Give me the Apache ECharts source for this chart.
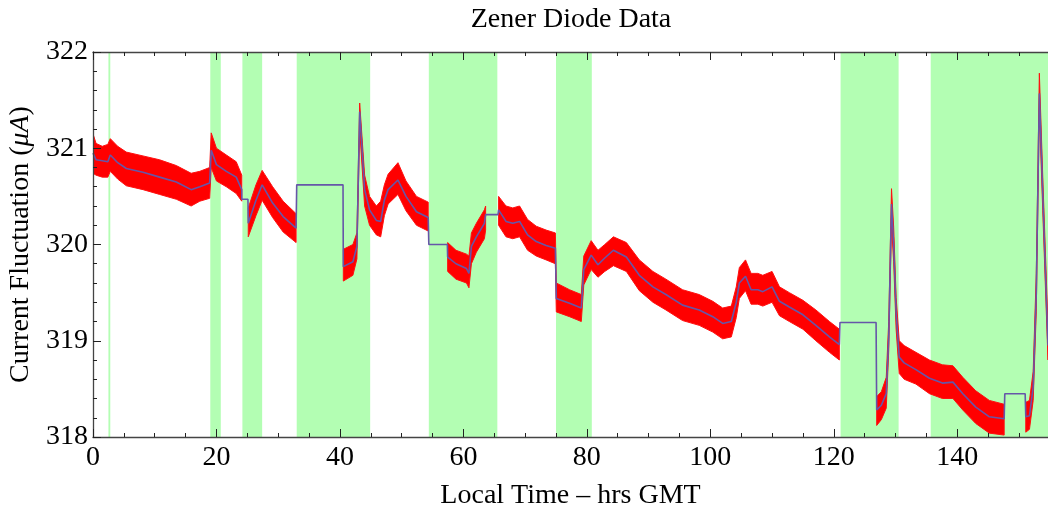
<!DOCTYPE html>
<html>
<head>
<meta charset="utf-8">
<script src="https://cdn.jsdelivr.net/npm/echarts@6/dist/echarts.min.js"></script>
<style>html,body{margin:0;padding:0;background:#fff;}#c{width:1048px;height:510px;}</style>
</head>
<body>
<div id="c"></div>
<script>
// ---- data ----
const chartTitle = 'Zener Diode Data';
const xName = 'Local Time \u2013 hrs GMT';
const yName = 'Current Fluctuation ({i|\u03bcA})';
const xTicksMajor = 20, xTicksMinor = 5, yTicksMajor = 1, yTicksMinor = 0.2;

// green (shaded) intervals, hours
const greenBands = [[2.5,2.8],[19.0,20.7],[24.2,27.4],[33.0,44.9],[54.4,65.5],[75.0,80.8],[121.1,130.5],[135.7,154.7]];

// time (hours), smoothed mean (purple), raw-noise envelope lower/upper (red); null = no raw data
const time  = [0,0.5,1.5,2.4,2.8,4,5.4,8.1,10.8,13.5,15.9,17.3,18.9,19.15,20.0,21.6,23.2,24.1,24.1,25.1,25.15,26.4,27.4,29.1,30.8,32.9,33.0,40.5,40.55,42.1,42.75,43.2,44.0,44.8,45.9,46.6,47.2,47.8,49.4,50.7,52.4,54.3,54.4,57.4,57.45,58.8,60.5,60.9,61.3,62.1,63.4,63.6,63.7,65.6,65.7,66.9,68.0,69.1,70.4,71.8,73.4,74.9,75.05,77.2,79.1,79.5,80.7,81.8,82.9,84.3,86.4,88.5,90.7,92.8,95.5,98.2,100.4,102.0,103.4,104.2,104.7,105.7,106.6,107.7,108.5,110.0,111.2,112.8,115.0,117.1,119.3,120.9,121.0,126.85,126.95,127.7,128.5,128.9,129.35,129.7,130.1,130.6,131.4,133.3,135.5,137.6,139.3,140.9,143.0,145.2,147.6,147.7,151.0,151.1,151.7,152.3,152.8,153.3,153.85,154.7];
const mean  = [320.95,320.88,320.87,320.86,320.93,320.85,320.79,320.75,320.70,320.65,320.57,320.60,320.64,320.98,320.83,320.76,320.70,320.57,320.47,320.47,320.22,320.46,320.62,320.43,320.29,320.17,320.62,320.62,319.77,319.82,319.98,321.38,320.57,320.36,320.25,320.24,320.46,320.57,320.67,320.50,320.34,320.28,320.00,320.00,319.87,319.80,319.75,319.70,319.98,320.08,320.22,320.31,320.31,320.31,320.36,320.24,320.22,320.24,320.10,320.03,319.99,319.96,319.44,319.39,319.34,319.74,319.89,319.79,319.86,319.94,319.87,319.68,319.56,319.48,319.37,319.32,319.25,319.18,319.20,319.40,319.60,319.67,319.53,319.53,319.51,319.56,319.41,319.35,319.27,319.16,319.04,318.96,319.19,319.19,318.28,318.33,318.45,319.04,320.42,320.00,319.29,318.83,318.77,318.70,318.61,318.56,318.57,318.45,318.31,318.21,318.19,318.45,318.45,318.21,318.22,318.52,319.49,321.57,320.53,318.95];
const lower = [320.74,320.72,320.70,320.70,320.76,320.68,320.61,320.57,320.52,320.47,320.40,320.45,320.48,320.80,320.66,320.60,320.53,320.45,null,null,320.08,320.30,320.46,320.28,320.13,320.02,null,null,319.62,319.68,319.85,321.20,320.40,320.20,320.10,320.08,320.30,320.42,320.52,320.35,320.20,320.14,null,null,319.72,319.64,319.60,319.55,319.80,319.92,320.06,320.15,null,null,320.20,320.08,320.06,320.08,319.94,319.88,319.84,319.80,319.30,319.25,319.20,319.58,319.74,319.66,319.72,319.78,319.72,319.52,319.40,319.32,319.21,319.16,319.09,319.02,319.04,319.24,319.44,319.52,319.38,319.38,319.36,319.40,319.26,319.20,319.12,319.00,318.88,318.80,null,null,318.12,318.18,318.30,318.90,320.20,319.82,319.12,318.66,318.60,318.55,318.45,318.40,318.40,318.28,318.14,318.04,318.02,null,null,318.05,318.08,318.38,319.30,321.40,320.35,318.80];
const upper = [321.15,321.05,321.02,321.04,321.10,321.02,320.96,320.92,320.88,320.82,320.74,320.76,320.80,321.16,321.00,320.93,320.86,320.72,null,null,320.38,320.62,320.77,320.60,320.45,320.32,null,null,319.95,320.00,320.12,321.47,320.72,320.50,320.40,320.45,320.62,320.73,320.85,320.66,320.50,320.44,null,null,320.02,319.94,319.90,319.88,320.12,320.22,320.36,320.40,null,null,320.50,320.40,320.38,320.40,320.26,320.19,320.15,320.12,319.60,319.53,319.48,319.88,320.04,319.94,320.00,320.08,320.02,319.84,319.72,319.64,319.53,319.48,319.41,319.34,319.36,319.56,319.76,319.84,319.70,319.70,319.68,319.72,319.56,319.50,319.42,319.32,319.20,319.12,null,null,318.42,318.47,318.62,319.20,320.58,320.18,319.45,319.00,318.95,318.88,318.80,318.75,318.74,318.62,318.48,318.38,318.34,null,null,318.36,318.38,318.68,319.70,321.78,320.70,319.15];

// ---- build ----
const segments = [];
let cur = [];
for (let i = 0; i < time.length; i++) {
  if (lower[i] == null || upper[i] == null) { if (cur.length > 1) segments.push(cur); cur = []; }
  else cur.push(i);
}
if (cur.length > 1) segments.push(cur);

const FONT = 'Liberation Serif';
const txt = { fontFamily: FONT, fontSize: 28, color: '#000' };
const XMIN = 0, XMAX = 154.7, YMIN = 318, YMAX = 322;

function xAx(pos, interval, len, showLine, showLabel) {
  return {
    type: 'value', position: pos, min: XMIN, max: XMAX, interval: interval, z: 10,
    axisLine: { show: showLine, onZero: false, lineStyle: { color: '#444', width: 1.3 } },
    axisTick: { show: true, inside: true, length: len, lineStyle: { color: '#222', width: 1 } },
    axisLabel: showLabel ? Object.assign({ margin: 7, showMaxLabel: false,
      formatter: v => (Math.abs(v % xTicksMajor) < 1e-9 ? String(v) : '') }, txt) : { show: false },
    splitLine: { show: false },
    name: showLabel ? xName : '', nameLocation: 'middle', nameGap: 45,
    nameTextStyle: txt
  };
}
function yAx(pos, interval, len, showLine, showLabel) {
  return {
    type: 'value', position: pos, min: YMIN, max: YMAX, interval: interval, z: 10,
    axisLine: { show: showLine, onZero: false, lineStyle: { color: '#444', width: 1.3 } },
    axisTick: { show: true, inside: true, length: len, lineStyle: { color: '#222', width: 1 } },
    axisLabel: showLabel ? Object.assign({ margin: 5, formatter: v => String(v) }, txt) : { show: false },
    splitLine: { show: false },
    name: showLabel ? yName : '', nameLocation: 'middle', nameGap: 53, nameRotate: 90,
    nameTextStyle: Object.assign({}, txt, { rich: { i: { fontFamily: FONT, fontSize: 28, fontStyle: 'italic', color: '#000' } } })
  };
}

const chart = echarts.init(document.getElementById('c'), null, { renderer: 'canvas' });
chart.setOption({
  animation: false,
  backgroundColor: '#fff',
  title: { text: chartTitle, left: 571, top: 6, textAlign: 'center', padding: 0,
           textStyle: { fontFamily: FONT, fontSize: 28, fontWeight: 'normal', color: '#000' } },
  grid: { left: 93, top: 52, right: 0, bottom: 73, containLabel: false, outerBoundsMode: 'none' },
  xAxis: [
    xAx('bottom', xTicksMajor, 8, true, true),
    xAx('bottom', xTicksMinor, 4, false, false),
    xAx('top', xTicksMajor, 8, true, false),
    xAx('top', xTicksMinor, 4, false, false)
  ],
  yAxis: [
    yAx('left', yTicksMajor, 8, true, true),
    yAx('left', yTicksMinor, 4, false, false)
  ],
  series: [
    {
      type: 'line', name: 'bands', silent: true, z: 1, xAxisIndex: 0, yAxisIndex: 0,
      data: [[XMIN, YMIN]], symbol: 'none', lineStyle: { opacity: 0 },
      markArea: { silent: true, itemStyle: { color: '#b3feb3', opacity: 1 },
        data: greenBands.map(b => [{ xAxis: b[0] }, { xAxis: b[1] }]) }
    },
    {
      type: 'custom', name: 'raw', z: 2, xAxisIndex: 0, yAxisIndex: 0, silent: true,
      data: segments.map(s => [time[s[0]], mean[s[0]]]),
      renderItem: function (params, api) {
        const seg = segments[params.dataIndex];
        const pts = [];
        seg.forEach(i => pts.push(api.coord([time[i], upper[i]])));
        for (let k = seg.length - 1; k >= 0; k--) { const i = seg[k]; pts.push(api.coord([time[i], lower[i]])); }
        const cs = params.coordSys;
        return {
          type: 'polygon', shape: { points: pts },
          style: { fill: '#ff0000', stroke: '#ff1010', lineWidth: 1 },
          clipPath: { type: 'rect', shape: { x: cs.x, y: cs.y, width: cs.width, height: cs.height } }
        };
      }
    },
    {
      type: 'line', name: 'mean', z: 3, xAxisIndex: 0, yAxisIndex: 0, silent: true,
      data: time.map((t, i) => [t, mean[i]]), symbol: 'none', clip: true,
      lineStyle: { color: '#6656a8', width: 1.6 }
    }
  ]
});
</script>
</body>
</html>
